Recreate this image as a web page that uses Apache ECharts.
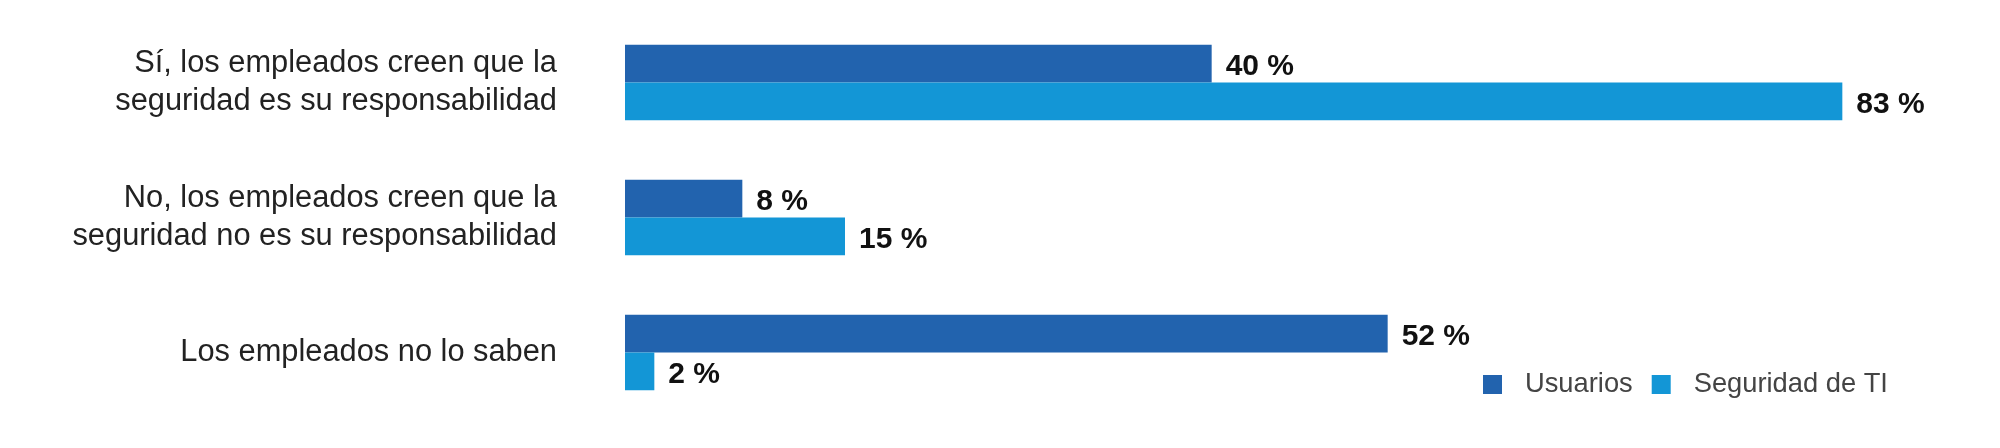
<!DOCTYPE html>
<html>
<head>
<meta charset="utf-8">
<script src="https://cdn.jsdelivr.net/npm/echarts@6/dist/echarts.min.js"></script>
<style>
  html, body { margin: 0; padding: 0; background: #fff; }
  #chart { width: 2000px; height: 448px; }
</style>
</head>
<body>
<div id="chart"></div>
<script>
var categories = [
  'Sí, los empleados creen que la\nseguridad es su responsabilidad',
  'No, los empleados creen que la\nseguridad no es su responsabilidad',
  'Los empleados no lo saben'
]
var usuarios = [40, 8, 52]
var seguridadTI = [83, 15, 2]

var valueLabel = {
  show: true,
  position: 'right',
  distance: 14,
  offset: [0, 3],
  formatter: '{c} %',
  color: '#111',
  fontFamily: 'Liberation Sans',
  fontWeight: 'bold',
  fontSize: 30
}

var chart = echarts.init(document.getElementById('chart'))
chart.setOption({
  backgroundColor: '#fff',
  animation: false,
  grid: { left: 625, width: 1320, top: 15, bottom: 28 },
  xAxis: {
    type: 'value',
    min: 0,
    max: 90,
    show: false
  },
  yAxis: {
    type: 'category',
    inverse: true,
    data: categories,
    axisLine: { show: false },
    axisTick: { show: false },
    axisLabel: {
      margin: 68,
      color: '#222',
      fontFamily: 'Liberation Sans',
      fontSize: 30.8,
      lineHeight: 38,
      align: 'right',
      padding: [0, 0, 6, 0]
    }
  },
  legend: {
    left: 1478,
    top: 366,
    itemWidth: 19,
    itemHeight: 19,
    itemGap: 19,
    icon: 'rect',
    textStyle: {
      color: '#444',
      fontFamily: 'Liberation Sans',
      fontSize: 27.3,
      padding: [0, 0, 0, 18]
    },
    data: ['Usuarios', 'Seguridad de TI']
  },
  series: [
    {
      name: 'Usuarios',
      type: 'bar',
      data: usuarios,
      barGap: '0%',
      barCategoryGap: '44%',
      itemStyle: { color: '#2263ae' },
      label: valueLabel
    },
    {
      name: 'Seguridad de TI',
      type: 'bar',
      data: seguridadTI,
      barGap: '0%',
      barCategoryGap: '44%',
      itemStyle: { color: '#1396d6' },
      label: valueLabel
    }
  ]
})
</script>
</body>
</html>
